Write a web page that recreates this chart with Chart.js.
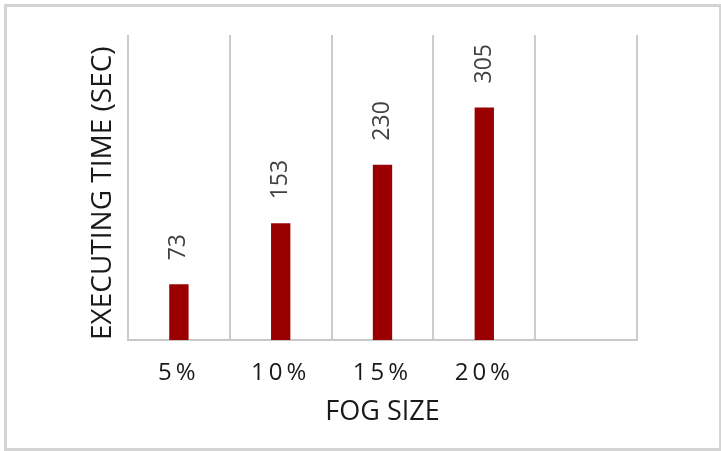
<!DOCTYPE html>
<html>
<head>
<meta charset="utf-8">
<script src="https://cdn.jsdelivr.net/npm/chart.js@4.4.1/dist/chart.umd.min.js"></script>
<style>
  html, body { margin: 0; padding: 0; background: #fff; }
  #wrap { position: relative; width: 721px; height: 451px; }
  #frame { position: absolute; left: 4px; top: 4px; width: 712px; height: 441px; border: 3px solid #d4d4d4; pointer-events: none; }
</style>
</head>
<body>
<div id="wrap">
  <canvas id="chart" width="721" height="451"></canvas>
  <div id="frame"></div>
</div>
<script>
const categories = ['5%', '10%', '15%', '20%', ''];
const execTimes = [73, 153, 230, 305, null];
const yTitle = 'EXECUTING TIME (SEC)';
const xTitle = 'FOG SIZE';

const fontFamily = "'Open Sans', sans-serif";

// value labels, rotated, above each bar
const barLabels = {
  id: 'barLabels',
  afterDatasetsDraw(chart) {
    const ctx = chart.ctx;
    const meta = chart.getDatasetMeta(0);
    ctx.save();
    ctx.font = '23px ' + fontFamily;
    ctx.fillStyle = '#404040';
    ctx.textAlign = 'left';
    ctx.textBaseline = 'middle';
    meta.data.forEach((bar, i) => {
      if (execTimes[i] == null) return;
      ctx.save();
      ctx.translate(bar.x, bar.y - 24);
      ctx.rotate(-Math.PI / 2);
      ctx.fillText(String(execTimes[i]), 0, 0);
      ctx.restore();
    });
    ctx.restore();
  }
};

// wide letter spacing on the category labels
const spacedTicks = {
  id: 'spacedTicks',
  beforeDraw(chart) {
    const s = chart.scales.x;
    if (s._spaced) return;
    const orig = s.drawLabels;
    s.drawLabels = function (area) {
      this.ctx.save();
      this.ctx.letterSpacing = '4px';
      orig.call(this, area);
      this.ctx.restore();
    };
    s._spaced = true;
  }
};

new Chart(document.getElementById('chart'), {
  type: 'bar',
  data: {
    labels: categories,
    datasets: [{
      data: execTimes,
      backgroundColor: '#9b0000',
      categoryPercentage: 1,
      barPercentage: 0.19
    }]
  },
  options: {
    responsive: false,
    animation: false,
    layout: { padding: { left: 0, top: 35, right: 84, bottom: 0 } },
    plugins: { legend: { display: false }, tooltip: { enabled: false } },
    scales: {
      x: {
        afterFit(scale) { scale.height = 111; },
        grid: { display: true, offset: true, color: '#cccccc', lineWidth: 2, drawTicks: false },
        border: { display: true, color: '#c8c8c8', width: 2 },
        ticks: { color: '#1a1a1a', font: { family: fontFamily, size: 24 }, padding: 19, maxRotation: 0 },
        title: { display: true, text: xTitle, color: '#1a1a1a', font: { family: fontFamily, size: 27 }, padding: { top: 0, bottom: 22 } }
      },
      y: {
        min: 0,
        max: 400,
        afterFit(scale) { scale.width = 128; },
        grid: { display: false },
        border: { display: false },
        ticks: { display: false },
        title: { display: true, text: yTitle, align: 'start', color: '#1a1a1a', font: { family: fontFamily, size: 28 }, padding: { top: 86, bottom: 0 } }
      }
    }
  },
  plugins: [barLabels, spacedTicks]
});
</script>
</body>
</html>
